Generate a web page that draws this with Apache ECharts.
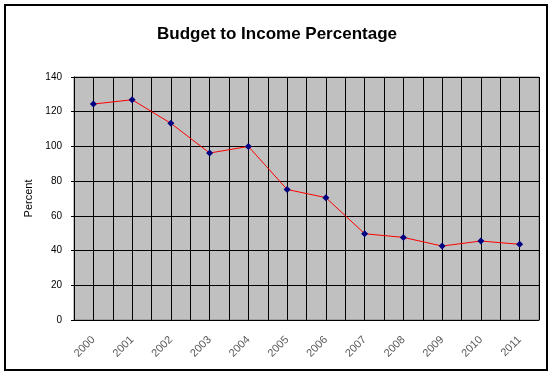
<!DOCTYPE html>
<html><head><meta charset="utf-8">
<script src="https://cdn.jsdelivr.net/npm/echarts@6/dist/echarts.min.js"></script>
<style>html,body{margin:0;padding:0;background:#fff}#c{width:554px;height:376px}</style>
</head><body><div id="c"></div>
<script>
const years = ['2000','2001','2002','2003','2004','2005','2006','2007','2008','2009','2010','2011'];
const percent = [124.4, 126.9, 113.3, 96.2, 100.0, 75.2, 70.5, 49.7, 47.6, 42.6, 45.5, 43.6];
const yTicks = [0, 20, 40, 60, 80, 100, 120, 140];

const chart = echarts.init(document.getElementById('c'), null, {renderer: 'canvas'});
chart.setOption({
  animation: false,
  backgroundColor: '#fff',
  title: {
    text: 'Budget to Income Percentage',
    left: 'center', top: 21,
    textStyle: {fontFamily: 'Liberation Sans', fontWeight: 'bold', fontSize: 17, color: '#000'}
  },
  graphic: [{
    type: 'rect', shape: {x: 5, y: 5, width: 542, height: 365},
    style: {fill: 'none', stroke: '#000', lineWidth: 2}, z: 100
  }],
  grid: {
    left: 74, top: 77, width: 465, height: 243,
    show: true, backgroundColor: '#C0C0C0', borderColor: '#808080', borderWidth: 1
  },
  xAxis: [{
    type: 'category', data: years, boundaryGap: true,
    axisLine: {lineStyle: {color: '#000', width: 1}},
    axisTick: {show: false},
    splitLine: {show: false},
    axisLabel: {rotate: 45, margin: 18, color: '#595959', fontFamily: 'Liberation Sans', fontSize: 11, interval: 0}
  }, {
    type: 'value', min: 0, max: 24, interval: 1, position: 'bottom',
    axisLine: {show: false}, axisTick: {show: false}, axisLabel: {show: false},
    splitLine: {show: true, lineStyle: {color: '#000', width: 1}}
  }],
  yAxis: {
    type: 'value', min: yTicks[0], max: yTicks[yTicks.length - 1], interval: 20,
    name: 'Percent', nameLocation: 'middle', nameGap: 37, nameRotate: 90,
    nameTextStyle: {fontFamily: 'Liberation Sans', fontSize: 11, color: '#000'},
    axisLine: {show: true, lineStyle: {color: '#000', width: 1}},
    axisTick: {show: true, length: 3, lineStyle: {color: '#000'}},
    axisLabel: {margin: 12, color: '#000', fontFamily: 'Liberation Sans', fontSize: 10},
    splitLine: {show: true, lineStyle: {color: '#000', width: 1}}
  },
  series: [{
    type: 'line', data: percent, xAxisIndex: 0,
    symbol: 'diamond', symbolSize: 7,
    itemStyle: {color: '#000080'},
    lineStyle: {color: '#FF0000', width: 1},
    z: 10
  }]
});
</script>
</body></html>
